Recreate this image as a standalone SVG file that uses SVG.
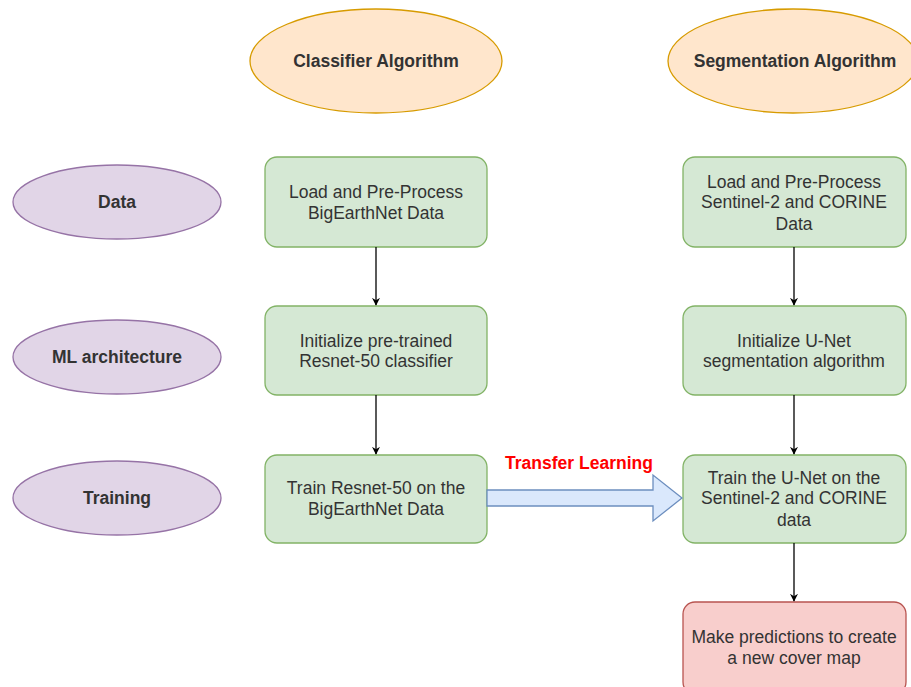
<svg xmlns="http://www.w3.org/2000/svg" width="911" height="687" viewBox="0 0 911 687">
<defs>
<style>
text{font-family:"Liberation Sans",Arial,sans-serif;font-size:17.5px;fill:#333;text-anchor:middle}
.b{font-weight:bold}
.org{fill:#ffe6cc;stroke:#d79b00;stroke-width:1.3}
.pur{fill:#e1d5e7;stroke:#9673a6;stroke-width:1.3}
.grn{fill:#d5e8d4;stroke:#82b366;stroke-width:1.3}
.red{fill:#f8cecc;stroke:#b85450;stroke-width:1.3}
.c{stroke:#000;stroke-width:1.3;fill:none;marker-end:url(#ah)}
</style>
<marker id="ah" viewBox="0 0 10 10" refX="9" refY="5" markerWidth="8" markerHeight="8" markerUnits="userSpaceOnUse" orient="auto"><path d="M0,0 L10,5 L0,10 L3,5 Z" fill="#000"/></marker>
</defs>
<rect width="911" height="687" fill="#fff"/>
<g id="classifier"><ellipse class="org" cx="376" cy="61" rx="126" ry="52"/><text class="b" x="376" y="67">Classifier Algorithm</text></g>
<g id="segmentation"><ellipse class="org" cx="793" cy="61" rx="125" ry="52"/><text class="b" x="795" y="67">Segmentation Algorithm</text></g>
<g id="data"><ellipse class="pur" cx="117" cy="202" rx="104" ry="37"/><text class="b" x="117" y="208">Data</text></g>
<g id="ml"><ellipse class="pur" cx="117" cy="357" rx="104" ry="37"/><text class="b" x="117" y="363">ML architecture</text></g>
<g id="training"><ellipse class="pur" cx="117" cy="498" rx="104" ry="37"/><text class="b" x="117" y="504">Training</text></g>
<g id="c1"><rect class="grn" x="265" y="157" width="222" height="90" rx="12"/><text x="376" y="198">Load and Pre-Process</text><text x="376" y="219">BigEarthNet Data</text></g>
<g id="c2"><rect class="grn" x="265" y="306" width="222" height="89" rx="12"/><text x="376" y="347">Initialize pre-trained</text><text x="376" y="367">Resnet-50 classifier</text></g>
<g id="c3"><rect class="grn" x="265" y="455" width="222" height="88" rx="12"/><text x="376" y="494">Train Resnet-50 on the</text><text x="376" y="515">BigEarthNet Data</text></g>
<g id="s1"><rect class="grn" x="683" y="157" width="223" height="90" rx="12"/><text x="794" y="188">Load and Pre-Process</text><text x="794" y="208">Sentinel-2 and CORINE</text><text x="794" y="230">Data</text></g>
<g id="s2"><rect class="grn" x="683" y="306" width="223" height="89" rx="12"/><text x="794" y="347">Initialize U-Net</text><text x="794" y="367">segmentation algorithm</text></g>
<g id="s3"><rect class="grn" x="683" y="455" width="223" height="88" rx="12"/><text x="794" y="484">Train the U-Net on the</text><text x="794" y="504">Sentinel-2 and CORINE</text><text x="794" y="526">data</text></g>
<g id="s4"><rect class="red" x="683" y="602" width="223" height="92" rx="12"/><text x="794" y="643">Make predictions to create</text><text x="794" y="664">a new cover map</text></g>
<g id="connectors">
<line class="c" x1="376" y1="247" x2="376" y2="305"/>
<line class="c" x1="376" y1="395" x2="376" y2="454"/>
<line class="c" x1="794" y1="247" x2="794" y2="305"/>
<line class="c" x1="794" y1="395" x2="794" y2="454"/>
<line class="c" x1="794" y1="543" x2="794" y2="601"/>
<path d="M487,490 L653,490 L653,475 L682,498 L653,521 L653,506 L487,506 Z" fill="#dae8fc" stroke="#6c8ebf" stroke-width="1.3"/>
<text class="b" x="579" y="469" style="fill:#ff0000">Transfer Learning</text>
</g>
</svg>
